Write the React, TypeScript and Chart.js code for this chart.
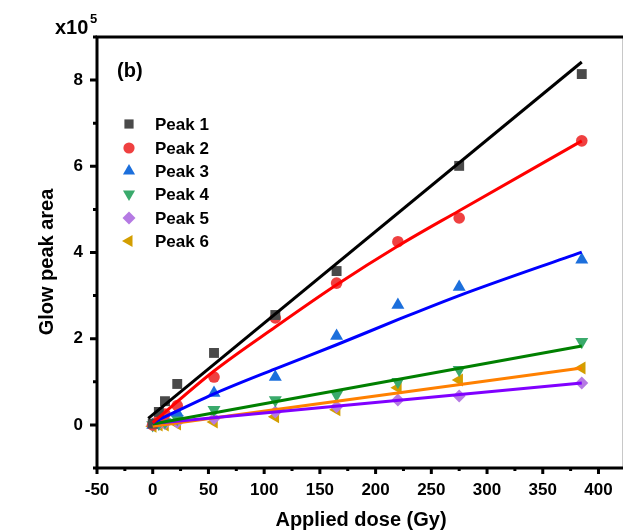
import React, { useEffect, useRef } from 'react';
import { Chart, registerables } from 'chart.js';

Chart.register(...registerables);

// Data (values in units of 1e5)
const doses = [0, 5.5, 11, 22, 55, 110, 165, 220, 275, 385];
const peak1 = [0.03, 0.3, 0.55, 0.95, 1.67, 2.55, 3.57, null, 6.01, 8.14];
const peak2 = [0.0, 0.12, 0.25, 0.45, 1.11, 2.48, 3.29, 4.25, 4.8, 6.59];
const peak3 = [0.0, 0.08, 0.15, 0.28, 0.74, 1.11, 2.06, 2.78, 3.2, 3.83];
const peak4 = [0.0, 0.03, 0.07, 0.14, 0.35, 0.58, 0.7, 1.0, 1.28, 1.93];
const peak5 = [0.0, 0.02, 0.03, 0.06, 0.15, 0.3, 0.42, 0.58, 0.67, 0.97];
const peak6 = [-0.03, 0.0, 0.0, 0.02, 0.07, 0.19, 0.35, 0.86, 1.04, 1.32];

// Fit curves
const fitX1 = [-4, 385];
const fit1 = [0.15, 8.42];
const fitX2 = [0, 55, 110, 165, 220, 275, 385];
const fit2 = [0.05, 1.25, 2.27, 3.25, 4.15, 4.97, 6.59];
const fitX3 = [0, 55, 110, 165, 220, 275, 385];
const fit3 = [0.05, 0.72, 1.3, 1.86, 2.44, 3.0, 4.01];
const fitX4 = [0, 385];
const fit4 = [0.02, 1.83];
const fitX5 = [0, 385];
const fit5 = [0.03, 0.97];
const fitX6 = [0, 385];
const fit6 = [-0.03, 1.32];

const seriesNames = ['Peak 1', 'Peak 2', 'Peak 3', 'Peak 4', 'Peak 5', 'Peak 6'];
const xTicks = [-50, 0, 50, 100, 150, 200, 250, 300, 350, 400];
const yTicks = [0, 2, 4, 6, 8];

const FONT = '"Liberation Sans", Arial, sans-serif';

const markerColors = ['#4a4a4a', '#ef4040', '#1c6fdc', '#3aaa6c', '#b57ae3', '#d39e00'];
const markerStyles = ['rect', 'circle', 'triangle', 'triangle', 'rectRot', 'triangle'];
const markerRot = [0, 0, 0, 180, 0, 270];
const markerRadius = [7, 5.8, 7.5, 7.5, 6.5, 7.5];
const lineColors = ['#000000', '#ff0000', '#0000ff', '#008000', '#8000ff', '#ff8000'];

function pts(xs: number[], ys: (number | null)[]) {
  return xs.map((x, i) => ({ x, y: ys[i] as any }));
}

function drawShape(ctx: CanvasRenderingContext2D, style: string, x: number, y: number, r: number, rotDeg: number, color: string) {
  ctx.save();
  ctx.fillStyle = color;
  ctx.translate(x, y);
  ctx.rotate((rotDeg * Math.PI) / 180);
  ctx.beginPath();
  if (style === 'circle') {
    ctx.arc(0, 0, r, 0, Math.PI * 2);
  } else if (style === 'rect') {
    const s = r * Math.SQRT1_2;
    ctx.rect(-s, -s, 2 * s, 2 * s);
  } else if (style === 'rectRot') {
    ctx.moveTo(0, -r);
    ctx.lineTo(r, 0);
    ctx.lineTo(0, r);
    ctx.lineTo(-r, 0);
    ctx.closePath();
  } else if (style === 'triangle') {
    for (let k = 0; k < 3; k++) {
      const a = -Math.PI / 2 + (k * 2 * Math.PI) / 3;
      const px = Math.cos(a) * r;
      const py = Math.sin(a) * r;
      if (k === 0) ctx.moveTo(px, py);
      else ctx.lineTo(px, py);
    }
    ctx.closePath();
  }
  ctx.fill();
  ctx.restore();
}

const AREA = { left: 97, top: 37, right: 623, bottom: 468 };

const decorPlugin = {
  id: 'decor',
  afterLayout(chart: any) {
    const ca = chart.chartArea;
    ca.left = AREA.left;
    ca.right = AREA.right;
    ca.top = AREA.top;
    ca.bottom = AREA.bottom;
    ca.width = ca.right - ca.left;
    ca.height = ca.bottom - ca.top;
    const xs = chart.scales.x;
    xs.left = AREA.left;
    xs.right = AREA.right;
    xs.width = AREA.right - AREA.left;
    xs.top = AREA.bottom;
    xs.configure();
    const ys = chart.scales.y;
    ys.top = AREA.top;
    ys.bottom = AREA.bottom;
    ys.height = AREA.bottom - AREA.top;
    ys.right = AREA.left;
    ys.configure();
  },
  afterDraw(chart: any) {
    const { ctx, chartArea } = chart;
    const xs = chart.scales.x;
    const ys = chart.scales.y;
    const { left, right, top, bottom } = chartArea;
    ctx.save();
    // right border (light)
    ctx.strokeStyle = '#c8c8c8';
    ctx.lineWidth = 1;
    ctx.beginPath();
    ctx.moveTo(right - 0.5, top);
    ctx.lineTo(right - 0.5, bottom);
    ctx.stroke();
    // frame: left, bottom, top
    ctx.strokeStyle = '#000';
    ctx.lineWidth = 3;
    ctx.lineCap = 'butt';
    ctx.beginPath();
    ctx.moveTo(left, top - 1.5);
    ctx.lineTo(left, bottom + 1.5);
    ctx.moveTo(left - 1.5, bottom);
    ctx.lineTo(right, bottom);
    ctx.moveTo(left - 1.5, top);
    ctx.lineTo(right, top);
    ctx.stroke();
    // x ticks
    ctx.lineWidth = 3;
    ctx.beginPath();
    for (let v = -50; v <= 420; v += 25) {
      const px = xs.getPixelForValue(v);
      const major = v % 50 === 0;
      ctx.moveTo(px, bottom);
      ctx.lineTo(px, bottom + (major ? 6 : 3));
    }
    // y ticks
    for (let v = -1; v <= 9; v += 1) {
      const py = ys.getPixelForValue(v);
      const major = v % 2 === 0;
      ctx.moveTo(left, py);
      ctx.lineTo(left - (major ? 7 : 4), py);
    }
    ctx.stroke();

    // texts
    ctx.fillStyle = '#000';
    ctx.textAlign = 'center';
    ctx.textBaseline = 'middle';
    ctx.font = `bold 20px ${FONT}`;
    ctx.fillText('Applied dose (Gy)', 361, 520);
    ctx.save();
    ctx.translate(47, 262);
    ctx.rotate(-Math.PI / 2);
    ctx.fillText('Glow peak area', 0, 0);
    ctx.restore();
    // x10^5
    ctx.textAlign = 'left';
    ctx.font = `bold 20px ${FONT}`;
    ctx.fillText('x10', 55, 28);
    ctx.font = `bold 13px ${FONT}`;
    ctx.fillText('5', 90, 19);
    // (b)
    ctx.font = `bold 20px ${FONT}`;
    ctx.fillText('(b)', 117, 71);

    // legend
    const rowY = [124, 148, 171, 194, 218, 241];
    ctx.font = `bold 17px ${FONT}`;
    for (let i = 0; i < seriesNames.length; i++) {
      const r = i === 0 ? 6.5 : i === 1 ? 5.6 : i === 4 ? 6.5 : 7;
      drawShape(ctx, markerStyles[i], 129, rowY[i], r, markerRot[i], markerColors[i]);
      ctx.fillStyle = '#000';
      ctx.fillText(seriesNames[i], 155, rowY[i] + 1);
    }
    ctx.restore();
  },
};

export default function App() {
  const ref = useRef<HTMLCanvasElement | null>(null);
  useEffect(() => {
    document.body.style.margin = '0';
    const canvas = ref.current!;
    const peaks = [peak1, peak2, peak3, peak4, peak5, peak6];
    const fits: [number[], number[]][] = [
      [fitX1, fit1],
      [fitX2, fit2],
      [fitX3, fit3],
      [fitX4, fit4],
      [fitX5, fit5],
      [fitX6, fit6],
    ];
    const datasets: any[] = [];
    peaks.forEach((p, i) => {
      datasets.push({
        label: seriesNames[i],
        data: pts(doses, p),
        showLine: false,
        pointStyle: markerStyles[i],
        rotation: markerRot[i],
        pointRadius: markerRadius[i],
        pointBackgroundColor: markerColors[i],
        pointBorderWidth: 0,
        pointBorderColor: markerColors[i],
        order: 2,
      });
    });
    fits.forEach(([fx, fy], i) => {
      datasets.push({
        label: 'fit' + (i + 1),
        data: pts(fx, fy),
        showLine: true,
        borderColor: lineColors[i],
        borderWidth: 3,
        pointRadius: 0,
        tension: 0.3,
        cubicInterpolationMode: 'monotone',
        order: 1,
      });
    });
    const chart = new Chart(canvas, {
      type: 'scatter',
      data: { datasets },
      options: {
        responsive: false,
        animation: false,
        events: [],
        layout: { padding: { left: 0, top: 37, right: 2, bottom: 0 } },
        plugins: { legend: { display: false }, tooltip: { enabled: false } },
        scales: {
          x: {
            type: 'linear',
            min: -50,
            max: 422,
            afterFit: (s: any) => {
              s.height = 64;
            },
            afterBuildTicks: (s: any) => {
              s.ticks = xTicks.map((v) => ({ value: v }));
            },
            grid: { display: false, drawTicks: false },
            border: { display: false },
            ticks: {
              padding: 12,
              maxRotation: 0,
              autoSkip: false,
              color: '#000',
              font: { family: FONT, size: 17, weight: 'bold' },
              callback: (v: any) => String(v),
            },
          },
          y: {
            type: 'linear',
            min: -1,
            max: 9,
            afterFit: (s: any) => {
              s.width = 97;
            },
            afterBuildTicks: (s: any) => {
              s.ticks = yTicks.map((v) => ({ value: v }));
            },
            grid: { display: false, drawTicks: false },
            border: { display: false },
            ticks: {
              padding: 14,
              autoSkip: false,
              color: '#000',
              font: { family: FONT, size: 17, weight: 'bold' },
              callback: (v: any) => String(v),
            },
          },
        },
      },
      plugins: [decorPlugin],
    });
    return () => chart.destroy();
  }, []);
  return (
    <div style={{ position: 'absolute', left: 0, top: 0, width: 625, height: 532 }}>
      <canvas ref={ref} width={625} height={532} style={{ display: 'block' }} />
    </div>
  );
}
